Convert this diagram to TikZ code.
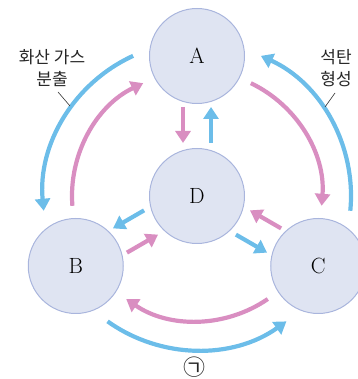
\documentclass[tikz,border=0pt]{standalone}
\usepackage{fontspec}
\newfontfamily\kr{Noto Sans CJK KR}
\usetikzlibrary{arrows.meta,calc}
\definecolor{cblue}{HTML}{6CBDE9}
\definecolor{cpink}{HTML}{D98EC1}
\definecolor{cfill}{HTML}{DFE4F2}
\definecolor{cedge}{HTML}{A9B5DD}
\tikzset{
  ball/.style={circle,draw=cedge,fill=cfill,line width=1pt,minimum size=95pt,inner sep=0pt,font=\fontsize{22}{22}\selectfont},
  barrow/.style={draw=cblue,line width=4.2pt,-{Triangle[width=15pt,length=12pt]}},
  parrow/.style={draw=cpink,line width=4.2pt,-{Triangle[width=15pt,length=12pt]}},
  lab/.style={font=\kr\fontsize{17}{22}\selectfont,align=center,text=black!85},
  leader/.style={draw=black!80,line width=0.6pt}
}
\begin{document}
\begin{tikzpicture}[x=1pt,y=1pt]
\useasboundingbox (0,0) rectangle (357,379);
\coordinate (O) at (197,183);
\node[ball] (D) at (O) {D};
\node[ball] (A) at ($(O)+(90:140)$) {A};
\node[ball] (B) at ($(O)+(210:140)$) {B};
\node[ball] (C) at ($(O)+(-30:140)$) {C};
% outer blue arcs (counterclockwise), inner pink arcs (clockwise)
\foreach \k in {0,1,2}{
  \pgfmathsetmacro{\s}{114.5+120*\k}
  \pgfmathsetmacro{\e}{185.5+120*\k}
  \draw[barrow] ($(O)+(\s:154)$) arc[start angle=\s,end angle=\e,radius=154];
  \pgfmathsetmacro{\ps}{184.5+120*\k}
  \pgfmathsetmacro{\pe}{115.5+120*\k}
  \draw[parrow] ($(O)+(\ps:125)$) arc[start angle=\ps,end angle=\pe,radius=125];
}
% straight arrows
\foreach \p in {90,210,-30}{
  \draw[barrow] ($(D)+(\p:53)+(\p-90:14)$) -- ($(D)+(\p:89)+(\p-90:14)$);
  \draw[parrow] ($(D)+(\p:89)+(\p+90:14)$) -- ($(D)+(\p:53)+(\p+90:14)$);
}
% labels
\node[lab] (L1) at (52,311) {화산 가스\\분출};
\node[lab] (L2) at (336,311) {석탄\\형성};
\coordinate (l1a) at (58,287);
\coordinate (l1b) at (70,273);
\coordinate (l2a) at (335,286);
\coordinate (l2b) at (325,272);
\draw[leader] (l1a) -- (l1b);
\draw[leader] (l2a) -- (l2b);
\node[font=\kr\fontsize{22}{22}\selectfont,text=black!85,inner sep=0pt,text depth=0pt,anchor=base] (G) at (194,3) {㉠};
\end{tikzpicture}
\end{document}
